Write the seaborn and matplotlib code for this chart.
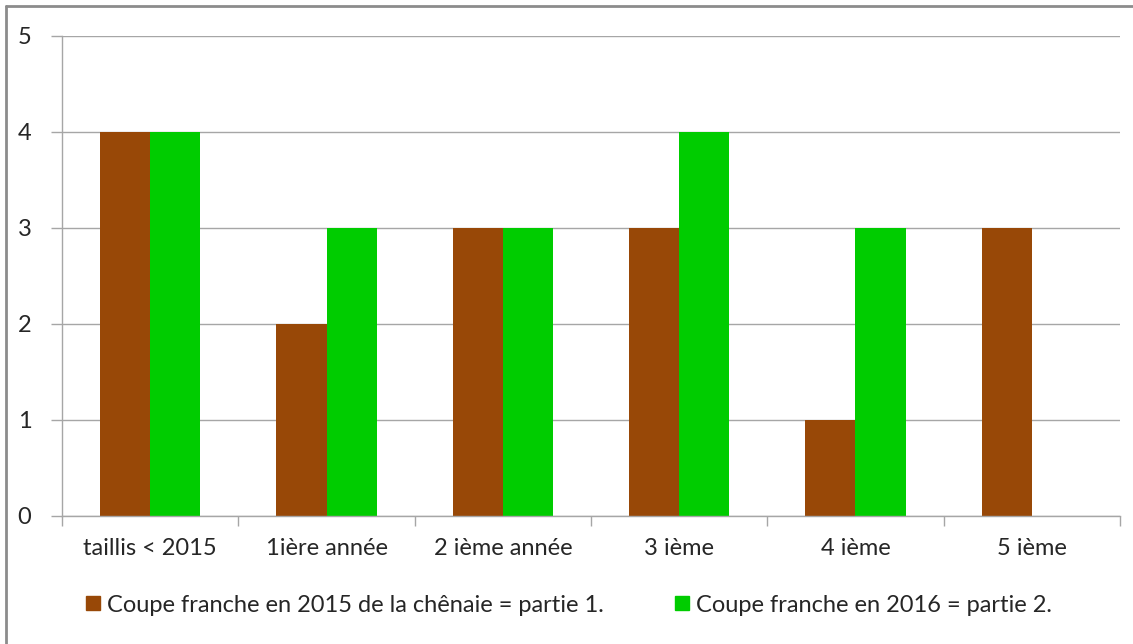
import matplotlib
matplotlib.use("Agg")
import matplotlib.pyplot as plt
from matplotlib.lines import Line2D
import pandas as pd
import seaborn as sns

categories = ["taillis < 2015", "1ière année", "2 ième année", "3 ième", "4 ième", "5 ième"]
series_names = ["Coupe franche en 2015 de la chênaie = partie 1.",
                "Coupe franche en 2016 = partie 2."]
partie1 = [4, 2, 3, 3, 1, 3]
partie2 = [4, 3, 3, 4, 3, 0]
colors = ["#984807", "#00CC00"]

df = pd.DataFrame({
    "categorie": categories * 2,
    "valeur": partie1 + partie2,
    "serie": [series_names[0]] * len(categories) + [series_names[1]] * len(categories),
})

sns.set_theme(style="white")
plt.rcParams["font.family"] = ["Lato", "DejaVu Sans"]

fig = plt.figure(figsize=(11.33, 6.44), dpi=100)
ax = fig.add_axes([62 / 1133, 1 - 516 / 644, (1120 - 62) / 1133, (516 - 36) / 644])

sns.barplot(data=df, x="categorie", y="valeur", hue="serie", palette=colors,
            width=0.57, saturation=1, ax=ax, legend=False, edgecolor="none")

grid_c = "#A6A6A6"
text_c = "#262626"
ax.set_ylim(0, 5)
ax.set_xlim(-0.5, len(categories) - 0.5)
ax.set_yticks(range(0, 6))
ax.yaxis.grid(True, color=grid_c, linewidth=1)
ax.set_axisbelow(True)
for s in ["top", "right"]:
    ax.spines[s].set_visible(False)
for s in ["left", "bottom"]:
    ax.spines[s].set_color(grid_c)
    ax.spines[s].set_linewidth(1)

ax.set_xticks(range(len(categories)))
ax.set_xticklabels(categories)
ax.set_xticks([i - 0.5 for i in range(len(categories) + 1)], minor=True)
ax.tick_params(axis="x", which="major", length=0, pad=16, labelsize=17, labelcolor=text_c)
ax.tick_params(axis="x", which="minor", length=7, width=1, color=grid_c, direction="out", bottom=True)
ax.tick_params(axis="y", length=8, width=1, color=grid_c, direction="out", left=True,
               pad=14, labelsize=17, labelcolor=text_c)
ax.set_xlabel("")
ax.set_ylabel("")

handles = [Line2D([0], [0], marker="s", linestyle="none", markersize=10,
                  markerfacecolor=c, markeredgecolor=c) for c in colors]
fig.legend(handles, series_names, loc="center", bbox_to_anchor=(0.5, 1 - 605 / 644),
           ncol=2, frameon=False, fontsize=17, handletextpad=0.1, handlelength=1.0,
           columnspacing=2.8, labelcolor=text_c)

# border on top and left like the original screenshot
fig.add_artist(Line2D([6 / 1133, 6 / 1133], [0, 1 - 6 / 644], transform=fig.transFigure,
                      color="#8C8C8C", linewidth=2))
fig.add_artist(Line2D([6 / 1133, 1], [1 - 6 / 644, 1 - 6 / 644], transform=fig.transFigure,
                      color="#8C8C8C", linewidth=2))

fig.savefig("out.png", dpi=100)
